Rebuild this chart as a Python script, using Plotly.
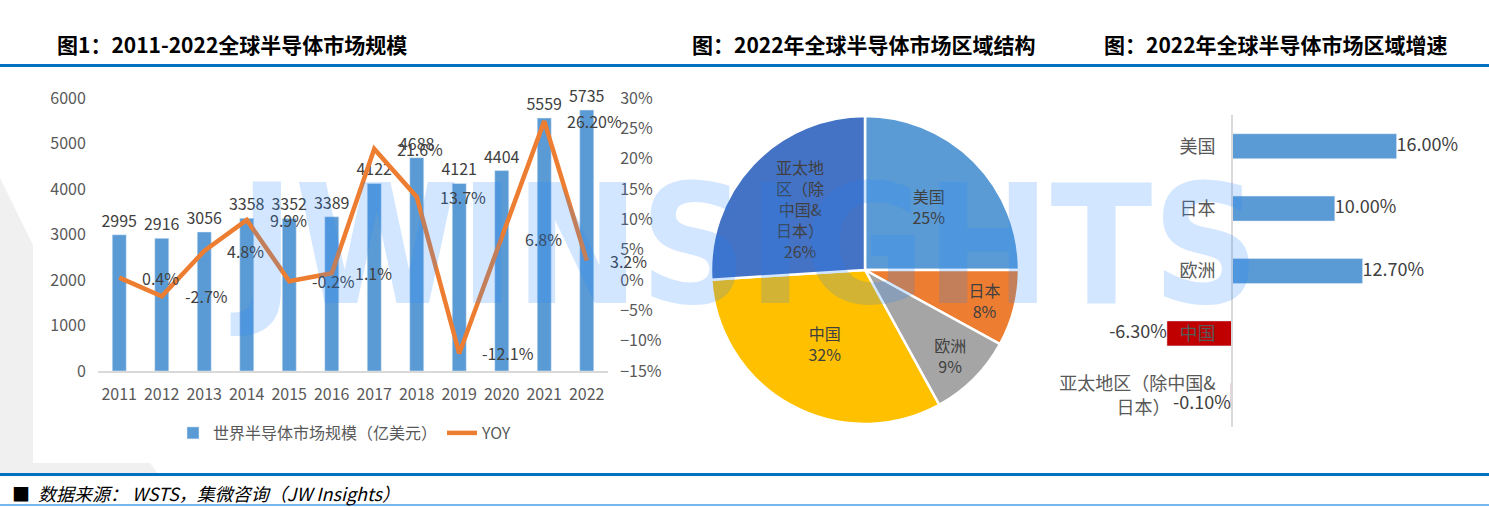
import plotly.graph_objects as go

# ---- data ----
years = ['2011', '2012', '2013', '2014', '2015', '2016',
         '2017', '2018', '2019', '2020', '2021', '2022']
market_size = [2995, 2916, 3056, 3358, 3352, 3389, 4122, 4688, 4121, 4404, 5559, 5735]
yoy = [0.4, -2.7, 4.8, 9.9, -0.2, 1.1, 21.6, 13.7, -12.1, 6.8, 26.2, 3.2]
yoy_text = ['0.4%', '-2.7%', '4.8%', '9.9%', '-0.2%', '1.1%',
            '21.6%', '13.7%', '-12.1%', '6.8%', '26.20%', '3.2%']

pie_regions = ['美国', '日本', '欧洲', '中国', '亚太地区（除中国&日本）']
pie_names = ['美国', '日本', '欧洲', '中国', '亚太地<br>区（除<br>中国&<br>日本）']
pie_share = [25, 8, 9, 32, 26]

growth_regions = ['美国', '日本', '欧洲', '中国', '亚太地区（除中国&日本）']
growth_ticks = ['美国', '日本', '欧洲', '中国', '亚太地区（除中国&<br>日本）\u3000\u3000\u3000']
growth = [16.0, 10.0, 12.7, -6.3, -0.1]

W, H = 1489, 507
FONT = 'Noto Sans CJK SC'
GREY = '#595959'
DARK = '#404040'


def px(x):
    return x / W


def py(y):
    return 1 - y / H


fig = go.Figure()

# left: market size bars + yoy line
fig.add_trace(go.Bar(
    x=years, y=market_size, name='世界半导体市场规模（亿美元）',
    marker_color='#5B9BD5', width=0.33,
    text=market_size, textposition='outside', cliponaxis=False, constraintext='none',
    textfont=dict(size=16, color=DARK, family=FONT),
    xaxis='x', yaxis='y'))
fig.add_trace(go.Scatter(
    x=years, y=yoy, name='YOY', mode='lines',
    line=dict(color='#ED7D31', width=4.5),
    xaxis='x', yaxis='y2'))

annotations = []
# category axis: annotations take the category index
for i, (v, t) in enumerate(zip(yoy, yoy_text)):
    annotations.append(dict(x=i, y=v, xref='x', yref='y2', text=t, showarrow=False,
                            xanchor='left', xshift=21,
                            font=dict(size=16, color=DARK, family=FONT)))

# middle: pie
pie_colors = ['#5B9BD5', '#ED7D31', '#A5A5A5', '#FFC000', '#4472C4']
fig.add_trace(go.Pie(
    labels=pie_regions, values=pie_share, sort=False, direction='clockwise',
    text=[f'{n}<br>{v}%' for n, v in zip(pie_names, pie_share)],
    textinfo='text', textposition='inside', insidetextorientation='horizontal',
    textfont=dict(size=16, color=DARK, family=FONT),
    marker=dict(colors=pie_colors, line=dict(color='white', width=2.5)),
    domain=dict(x=[px(711), px(1019)], y=[py(424), py(116)]),
    showlegend=False, hoverinfo='label+percent'))

# right: growth bars
fig.add_trace(go.Bar(
    x=growth, y=growth_regions, orientation='h', width=0.4,
    marker_color=['#C00000' if v < 0 else '#5B9BD5' for v in growth],
    showlegend=False, xaxis='x3', yaxis='y3'))
fig.add_trace(go.Scatter(
    x=growth, y=growth_regions, mode='text',
    text=[f'{v:.2f}%' for v in growth],
    textposition=['middle right', 'middle right', 'middle right', 'middle left', 'bottom left'],
    textfont=dict(size=18, color=DARK, family=FONT),
    cliponaxis=False, showlegend=False, xaxis='x3', yaxis='y3'))

# titles
for x0, t in [(55, '图1：2011-2022全球半导体市场规模'),
              (690, '图：2022年全球半导体市场区域结构'),
              (1102, '图：2022年全球半导体市场区域增速')]:
    annotations.append(dict(x=px(x0), y=py(44), xref='paper', yref='paper', xanchor='left',
                            yanchor='middle', text=f'<b>{t}</b>', showarrow=False,
                            font=dict(size=21, color='#000000', family=FONT)))

annotations.append(dict(x=px(10), y=py(493), xref='paper', yref='paper', xanchor='left',
                        yanchor='middle', showarrow=False,
                        text='■  <i>数据来源： WSTS，集微咨询（JW Insights）</i>',
                        font=dict(size=18, color='#000000', family=FONT)))

# watermark
annotations.append(dict(x=px(745), y=py(245), xref='paper', yref='paper', showarrow=False,
                        text='<b>JWINSIGHTS</b>',
                        font=dict(size=166, color='rgba(30,130,255,0.2)',
                                  family='Liberation Sans Narrow, DejaVu Sans Condensed, Roboto')))

shapes = [
    dict(type='path', xref='paper', yref='paper', layer='below', line_width=0,
         fillcolor='#F0F0F0',
         path=f'M0,{py(178)} L{px(33)},{py(245)} L{px(33)},{py(463)} L{px(150)},{py(463)} '
              f'L{px(158)},{py(474)} L0,{py(474)} Z'),
    dict(type='line', xref='paper', yref='paper', x0=0, x1=1, y0=py(65.5), y1=py(65.5),
         line=dict(color='#0070C0', width=3)),
    dict(type='line', xref='paper', yref='paper', x0=0, x1=1, y0=py(474.5), y1=py(474.5),
         line=dict(color='#0070C0', width=3)),
    dict(type='line', xref='paper', yref='paper', x0=0, x1=1, y0=py(505), y1=py(505),
         line=dict(color='#4A9FE8', width=1.5)),
]

tick_hidden = dict(ticks='outside', tickcolor='rgba(0,0,0,0)', automargin=False)

fig.update_layout(
    width=W, height=H, margin=dict(l=0, r=0, t=0, b=0, autoexpand=False),
    paper_bgcolor='white', plot_bgcolor='rgba(0,0,0,0)',
    font=dict(family=FONT, color=GREY),
    xaxis=dict(type='category', domain=[px(98), px(608)], anchor='y', range=[-0.5, 11.5],
               showline=True, linecolor='#D9D9D9', linewidth=1.5, ticklen=8,
               tickfont=dict(size=16, color=GREY), **tick_hidden),
    yaxis=dict(domain=[py(371), py(98)], range=[0, 6000], dtick=1000, showgrid=False,
               zeroline=False, ticklen=8, tickfont=dict(size=16, color=GREY), **tick_hidden),
    yaxis2=dict(overlaying='y', side='right', anchor='x', range=[-15, 30], dtick=5,
                ticksuffix='%', showgrid=False, zeroline=False, ticklen=8,
                tickfont=dict(size=16, color=GREY), **tick_hidden),
    xaxis3=dict(domain=[px(1100), px(1480)], anchor='y3', range=[-12.8, 24.1],
                visible=False, automargin=False),
    yaxis3=dict(domain=[py(427), py(115)], anchor='free', position=px(1232),
                autorange='reversed', categoryorder='array', categoryarray=growth_regions,
                tickvals=growth_regions, ticktext=growth_ticks,
                showline=True, linecolor='#D9D9D9', linewidth=2, showgrid=False,
                ticklen=12, tickfont=dict(size=18, color=GREY), **tick_hidden),
    legend=dict(orientation='h', x=px(345), xanchor='center', y=py(433), yanchor='middle',
                font=dict(size=16, color=GREY), bgcolor='rgba(0,0,0,0)'),
    annotations=annotations, shapes=shapes,
)

fig.write_html('out.html', config={'displayModeBar': False},
               post_script="document.body.style.margin='0';")
